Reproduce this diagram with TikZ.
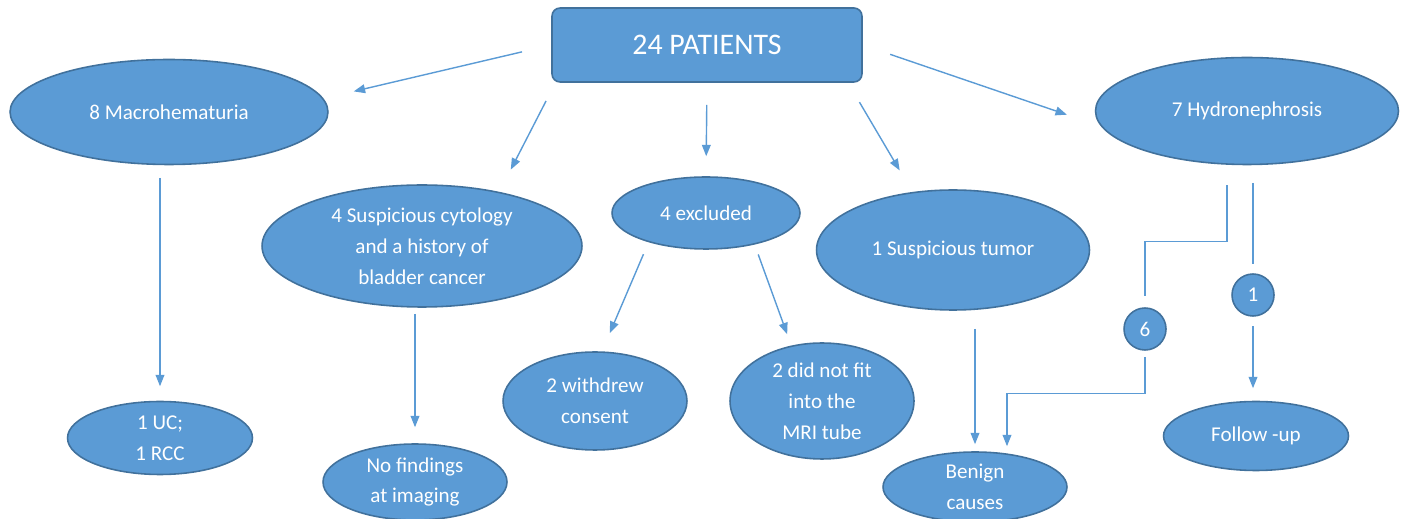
\documentclass[tikz,border=0pt]{standalone}
\usepackage{fontspec}
\setmainfont{Carlito}
\usetikzlibrary{shapes.geometric, arrows.meta}

\definecolor{boxfill}{HTML}{5B9BD5}
\definecolor{boxline}{HTML}{41719C}
\definecolor{arrowline}{HTML}{5B9BD5}

\begin{document}
\begin{tikzpicture}[x=0.02cm, y=-0.02cm,
        oval/.style={shape=ellipse, draw=boxline, fill=boxfill, line width=0.9pt, text=white, inner sep=0pt, align=center, font=\fontsize{12}{17.6}\selectfont},
        numdot/.style={shape=circle, draw=boxline, fill=boxfill, line width=0.9pt, text=white, inner sep=0pt, minimum size=0.84cm, font=\fontsize{12}{14}\selectfont},
        flow/.style={draw=arrowline, line width=0.8pt},
        >={Triangle[length=6.5pt, width=5pt]}]
            \useasboundingbox (0,0) rectangle (1416,519);

            \node [shape=rectangle, rounded corners=0.16cm, draw=boxline, fill=boxfill, line width=0.9pt, text=white, minimum width=6.2cm, minimum height=1.48cm, font=\fontsize{17}{20}\selectfont] (patients) at (707,45) {24 PATIENTS};

            \node [oval, minimum width=6.36cm, minimum height=2.1cm] (macro) at (169,112) {8 Macrohematuria};
            \node [oval, minimum width=6.06cm, minimum height=2.14cm] (hydro) at (1247,111) {7 Hydronephrosis};
            \node [oval, minimum width=6.4cm, minimum height=2.44cm] (cytology) at (422,246) {4 Suspicious cytology\\and a history of\\bladder cancer};
            \node [oval, minimum width=3.76cm, minimum height=1.44cm] (excluded) at (706,213) {4 excluded};
            \node [oval, minimum width=5.46cm, minimum height=2.4cm] (tumor) at (953,250) {1 Suspicious tumor};
            \node [oval, minimum width=3.7cm, minimum height=1.46cm] (ucrcc) at (160,438) {1 UC;\\1 RCC};
            \node [oval, minimum width=3.68cm, minimum height=1.52cm] (nofind) at (415,482) {No findings\\at imaging};
            \node [oval, minimum width=3.68cm, minimum height=1.96cm] (withdrew) at (595,401) {2 withdrew\\consent};
            \node [oval, minimum width=3.68cm, minimum height=2.32cm] (notfit) at (822,401) {2 did not fit\\into the\\MRI tube};
            \node [oval, minimum width=3.68cm, minimum height=1.4cm] (benign) at (975,487) {Benign\\causes};
            \node [oval, minimum width=3.7cm, minimum height=1.38cm] (followup) at (1256,436) {Follow -up};
            \node [numdot] (six) at (1145,329) {6};
            \node [numdot] (one) at (1253,295) {1};

            % from the patients box
            \draw [flow, ->, shorten <=0.6cm, shorten >=0.62cm] (patients.west) -- (macro.5);
            \draw [flow, ->, shorten <=0.41cm, shorten >=0.5cm] (patients.194) -- (cytology.35);
            \draw [flow, ->, shorten <=0.44cm, shorten >=0.4cm] (patients.south) -- (excluded.north);
            \draw [flow, ->, shorten <=0.45cm, shorten >=0.5cm] (patients.-15) -- (tumor.125);
            \draw [flow, ->, shorten <=0.58cm, shorten >=0.72cm] (patients.east) -- (hydro.186);

            \draw [flow, ->] ([yshift=-0.25cm]macro.south -| ucrcc.north) -- ([yshift=0.29cm]ucrcc.north);
            \draw [flow, ->] ([yshift=-0.12cm]cytology.south -| nofind.north) -- ([yshift=0.32cm]nofind.north);
            \draw [flow, ->, shorten <=0.26cm, shorten >=0.4cm] (excluded.207) -- (withdrew.82);
            \draw [flow, ->, shorten <=0.21cm, shorten >=0.24cm] (excluded.-33) -- (notfit.119);
            \draw [flow, ->] ([yshift=-0.36cm]tumor.south -| benign.north) -- ([yshift=0.14cm]benign.north);

            % hydronephrosis split
            \draw [flow] ([xshift=-0.4cm, yshift=-0.4cm]hydro.south) -- ++(0,56) -| ([yshift=0.22cm]six.north);
            \draw [flow, ->] ([yshift=-0.12cm]six.south) -- ++(0,37) -| ([xshift=0.64cm, yshift=0.1cm]benign.north);
            \draw [flow] ([yshift=-0.35cm]hydro.south -| one.north) -- ([yshift=0.18cm]one.north);
            \draw [flow, ->] ([yshift=-0.19cm]one.south) -- ([yshift=0.25cm]followup.north -| one.south);
        \end{tikzpicture}
\end{document}
